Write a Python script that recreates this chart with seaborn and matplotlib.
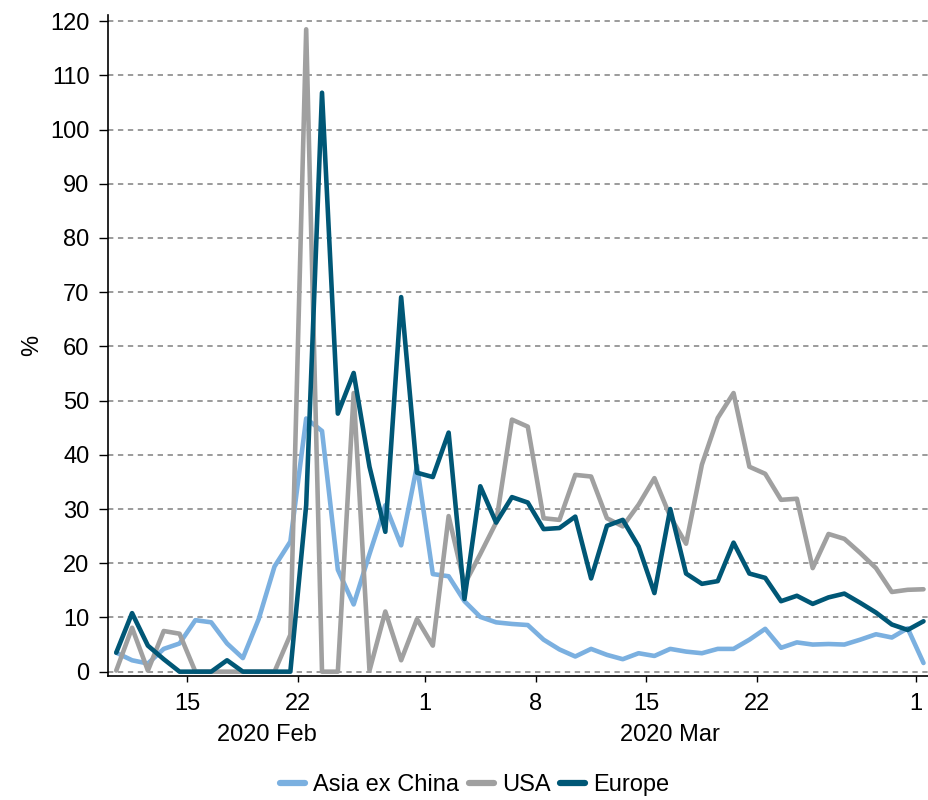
import pandas as pd
import numpy as np
import matplotlib.pyplot as plt
import matplotlib.dates as mdates
import matplotlib.transforms as mtransforms
import seaborn as sns

# daily values, 10 Feb 2020 .. 1 Apr 2020
dates = pd.date_range("2020-02-10", "2020-04-01", freq="D")

asia = [3.5, 2.1, 1.5, 4.2, 5.2, 9.5, 9.1, 5.2, 2.5, 9.7,
        19.4, 24.0, 46.7, 44.4, 18.8, 12.4, 21.7, 30.7, 23.3, 38.0,
        18.0, 17.6, 13.0, 10.1, 9.1, 8.8, 8.6, 5.9, 4.1, 2.8,
        4.2, 3.1, 2.3, 3.4, 2.9, 4.2, 3.7, 3.4, 4.2, 4.2,
        5.9, 7.9, 4.4, 5.4, 5.0, 5.1, 5.0, 5.9, 6.9, 6.3,
        8.0, 1.6]
usa = [0.2, 8.1, 0.2, 7.5, 7.0, 0.0, 0.0, 0.0, 0.0, 0.0,
       0.0, 6.8, 118.5, 0.0, 0.0, 51.4, 0.2, 11.1, 2.1, 9.7,
       4.8, 28.7, 16.1, 21.7, 27.5, 46.5, 45.2, 28.3, 28.0, 36.3,
       36.0, 28.3, 26.8, 30.8, 35.7, 28.6, 23.6, 38.2, 46.8, 51.4,
       37.8, 36.5, 31.7, 31.9, 19.1, 25.4, 24.5, 21.9, 19.1, 14.7,
       15.1, 15.2]
europe = [3.5, 10.8, 4.8, 2.3, 0.0, 0.0, 0.0, 2.1, 0.0, 0.0,
          0.0, 0.0, 30.7, 106.8, 47.6, 55.1, 37.8, 25.8, 69.1, 36.7,
          35.9, 44.1, 13.4, 34.2, 27.5, 32.2, 31.2, 26.3, 26.5, 28.6,
          17.2, 26.9, 28.0, 23.1, 14.5, 30.0, 18.1, 16.2, 16.7, 23.8,
          18.1, 17.3, 13.0, 14.0, 12.5, 13.7, 14.4, 12.7, 10.9, 8.7,
          7.7, 9.3]

series = ["Asia ex China", "USA", "Europe"]
colors = ["#7BB0E0", "#A0A0A0", "#005776"]
tick_dates = pd.to_datetime(["2020-02-15", "2020-02-22", "2020-03-01", "2020-03-08",
                             "2020-03-15", "2020-03-22", "2020-04-01"])
months = ["2020 Feb", "2020 Mar"]
month_spans = [("2020-02-10", "2020-03-01"), ("2020-03-01", "2020-04-01")]

# long-form table; values sit at mid-day
df = pd.DataFrame({
    "date": np.tile(dates + pd.Timedelta(hours=12), 3),
    "value": asia + usa + europe,
    "region": np.repeat(series, len(dates)),
})

sns.set_theme(style="white")
plt.rcParams["font.family"] = ["Liberation Sans", "DejaVu Sans"]
plt.rcParams["text.color"] = "black"
plt.rcParams["axes.labelcolor"] = "black"

FS = 17

fig = plt.figure(figsize=(9.29, 8.0), dpi=100)
ax = fig.add_axes([0.1166, 0.155, 0.886, 0.826])

sns.lineplot(data=df, x="date", y="value", hue="region", hue_order=series,
             palette=colors, linewidth=3.3, ax=ax, legend=False)

ax.set_xlim(pd.Timestamp("2020-02-10"), pd.Timestamp("2020-04-02"))
ax.set_ylim(-0.8, 121.1)
ax.set_yticks(np.arange(0, 121, 10))
ax.set_xticks(tick_dates)
ax.xaxis.set_major_formatter(mdates.DateFormatter("%-d"))

ax.grid(axis="y", linestyle=(0, (3.5, 3)), linewidth=1.1, color="#808080")
ax.set_axisbelow(True)
for side in ["top", "right"]:
    ax.spines[side].set_visible(False)
for side in ["left", "bottom"]:
    ax.spines[side].set_color("black")
    ax.spines[side].set_linewidth(1.2)

ax.tick_params(axis="y", direction="out", length=6.5, width=1, colors="black",
               labelsize=FS, pad=7, left=True)
ax.tick_params(axis="x", direction="out", length=4.3, width=1, colors="black",
               labelsize=FS, pad=8, bottom=True)

ax.set_xlabel("")
ax.set_ylabel("%", fontsize=FS, labelpad=5)

# month captions centred on the visible part of each month
trans = mtransforms.blended_transform_factory(ax.transData, fig.transFigure)
for label, (start, end) in zip(months, month_spans):
    mid = pd.Timestamp(start) + (pd.Timestamp(end) - pd.Timestamp(start)) / 2
    ax.text(mid, 0.081, label, transform=trans, ha="center", va="center",
            fontsize=FS, color="black")

handles = [plt.Line2D([], [], color=c, linewidth=4.5) for c in colors]
fig.legend(handles, series, loc="center", bbox_to_anchor=(0.511, 0.019), ncol=3,
           frameon=False, fontsize=FS, handlelength=1.06, handletextpad=0.34,
           columnspacing=0.4)

fig.savefig("out.png", dpi=100)
